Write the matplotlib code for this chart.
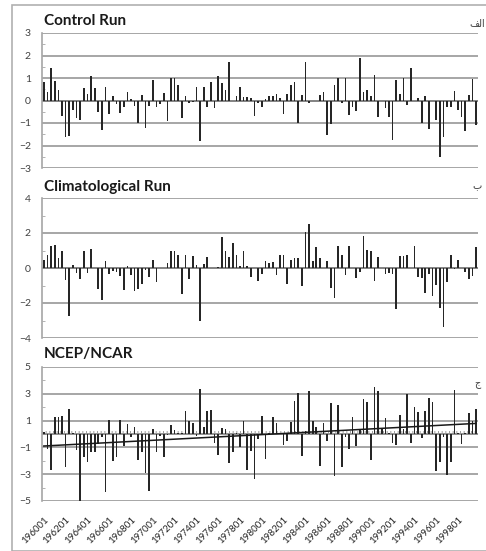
import numpy as np
import matplotlib.pyplot as plt
from matplotlib.patches import Rectangle
from matplotlib.ticker import MultipleLocator

plt.rcParams["font.family"] = ["Lato", "DejaVu Sans"]

# three values per year, 1960-1999
periods = [f"{y}0{m}" for y in range(1960, 2000) for m in (1, 2, 3)]
tick_labels = [f"{y}01" for y in range(1960, 2000, 2)]

control = [
    0.84, 0.36, 1.44, 0.87, 0.47, -0.68, -1.6, -1.57, -0.41, -0.79,
    -0.86, 0.55, 0.3, 1.07, 0.56, -0.52, -1.3, 0.59, -0.59, 0.22,
    -0.16, -0.56, -0.3, 0.36, 0.05, -0.24, -1.0, 0.25, -1.23, -0.24,
    0.92, -0.3, -0.16, 0.33, -0.92, 1.02, 1.02, 0.7, -0.79, 0.18,
    -0.12, -0.07, 0.59, -1.82, 0.59, -0.27, 0.84, -0.34, 1.1, 0.8,
    0.47, 1.73, 0.0, 0.18, 0.59, 0.15, 0.15, 0.1, -0.71, -0.12,
    -0.3, 0.07, 0.18, 0.22, 0.28, 0.1, -0.59, 0.3, 0.7, 0.81,
    -0.98, 0.25, 1.7, -0.09, 0.0, 0.0, 0.25, 0.4, -1.53, -1.04,
    0.67, 0.99, -0.09, 0.99, -0.64, -0.27, -0.46, 1.88, 0.36, 0.47,
    0.18, 1.14, -0.74, 0.0, -0.34, -0.74, -1.75, 0.89, 0.28, 0.99,
    -0.19, 1.44, -0.04, 0.13, -1.0, 0.18, -1.26, 0.0, -0.86, -2.52,
    -1.63, -0.27, -0.31, 0.43, -0.44, -0.74, -1.35, 0.25, 0.95, -1.08,
]

climatological = [
    0.48, 0.72, 1.24, 1.3, 0.57, 0.95, -0.7, -2.72, 0.19, -0.29,
    -0.63, 0.95, -0.29, 1.09, 0.0, -1.2, -1.85, 0.38, -0.32, -0.19,
    -0.25, -0.48, -1.24, 0.1, -0.38, -1.33, -1.18, -0.9, -0.1, -0.51,
    0.48, -0.82, 0.0, 0.0, 0.29, 0.95, 1.0, 0.72, -1.47, 0.76,
    -0.63, 0.67, 0.19, -3.0, 0.23, 0.61, 0.0, 0.0, 0.06, 1.8,
    0.99, 0.61, 1.43, 0.76, 0.13, 1.0, 0.13, -0.51, 0.0, -0.76,
    -0.32, 0.38, 0.29, 0.32, -0.38, 0.76, 0.76, -0.9, 0.48, 0.57,
    0.57, -1.05, 2.04, 2.5, 0.38, 1.18, 0.57, 0.0, 0.42, -1.14,
    -1.71, 1.28, 0.76, -0.38, 1.28, 0.0, -0.57, -0.25, 1.81, 1.05,
    0.99, -0.76, 0.61, 0.0, -0.32, -0.29, -0.32, -2.34, 0.7, 0.7,
    0.76, 0.0, 1.28, -0.51, -0.57, -1.43, -0.34, -1.62, -0.95, -2.28,
    -3.39, -0.82, 0.76, -0.06, 0.48, 0.0, -0.25, -0.63, -0.44, 1.2,
]

ncep = [
    0.15, -1.1, -2.7, 1.24, 1.24, 1.37, -2.43, 1.86, 0.1, -1.2,
    -5.0, -1.74, -2.1, -1.37, -1.37, -0.75, -0.25, -4.35, 1.04, -1.99,
    -1.69, 1.04, -0.87, 0.75, -0.25, 0.55, -1.94, -1.32, -2.93, -4.22,
    0.37, -1.37, -0.12, -1.69, -0.05, 0.7, 0.32, 0.05, 0.1, 1.69,
    1.0, 0.8, -0.12, 3.35, 0.55, 1.69, 1.79, -0.7, -1.57, 0.45,
    0.37, -2.19, -1.37, 0.1, -1.0, 1.0, -2.68, -1.3, -3.35, -0.37,
    1.37, -1.86, 0.1, 1.24, 0.8, 0.1, -0.8, -0.5, 0.87, 2.43,
    3.06, -1.61, 0.25, 3.23, 0.94, 0.55, -2.36, 0.8, -0.55, 2.29,
    -3.1, 2.19, -2.43, -0.25, -1.12, 1.24, -0.87, 0.37, 2.6, 2.36,
    -1.94, 3.53, 3.23, 0.37, 1.19, 0.1, -0.7, -0.8, 1.44, 0.37,
    2.98, -0.7, 1.99, 1.61, -0.3, 1.74, 2.68, 2.36, -2.73, -2.11,
    -0.2, -3.03, -2.11, 3.28, 0.1, -0.75, 0.1, 1.54, 1.0, 1.86,
]

W, H = 486, 551
fig = plt.figure(figsize=(W / 100, H / 100), dpi=100)
fig.patches.append(Rectangle((12 / W, 0), 1, 1 - 5 / H, transform=fig.transFigure,
                             fill=False, edgecolor="#b0b0b0", lw=1.2))

x = np.arange(len(periods))
grid_c = "#a6a6a6"


def panel(top_px, bot_px, values, ylim, major, minor, title, title_y, letter, letter_y):
    ax = fig.add_axes([42 / W, 1 - bot_px / H, 436 / W, (bot_px - top_px) / H])
    ax.bar(x, values, width=0.45, color="#262626", zorder=3)
    ax.set_xlim(-0.5, len(periods) - 0.5)
    ax.set_ylim(*ylim)
    ax.yaxis.set_major_locator(MultipleLocator(major))
    ax.yaxis.set_minor_locator(MultipleLocator(minor))
    ax.grid(axis="y", which="major", color=grid_c, lw=1.4, zorder=0)
    ax.axhline(0, color="#7f7f7f", lw=1.2, zorder=2)
    for s in ("top", "right", "bottom"):
        ax.spines[s].set_visible(False)
    ax.spines["left"].set_color(grid_c)
    ax.spines["left"].set_linewidth(1.2)
    ax.tick_params(axis="y", which="major", length=0, labelsize=7.5, colors="#404040", pad=8)
    ax.tick_params(axis="y", which="minor", direction="in", length=2.5, color=grid_c)
    ax.tick_params(axis="x", length=0)
    ax.set_xticks([])
    fig.text(44 / W, 1 - title_y / H, title, fontsize=11, fontweight="bold",
             color="#1a1a1a", va="center", ha="left")
    fig.text(477 / W, 1 - letter_y / H, letter, fontsize=7, color="#404040",
             va="center", ha="center", family=["DejaVu Sans"])
    return ax


panel(33, 168, control, (-3, 3), 1, 0.5, "Control Run", 21, "\ufed2\ufedf\ufe8d", 24)
panel(198, 338, climatological, (-4, 4), 2, 1, "Climatological Run", 187, "\u0628", 186)
ax3 = panel(367, 501, ncep, (-5, 5), 2, 1, "NCEP/NCAR", 354, "\u062c", 384)
ax3.set_yticks([-5, -3, -1, 1, 3, 5])

# dotted reference line and linear trend
ax3.axhline(0.12, color="#8c8c8c", lw=1.2, ls=(0, (0.6, 1.6)), zorder=2)
coef = np.polyfit(x, ncep, 1)
ax3.plot(x, np.polyval(coef, x), color="#1a1a1a", lw=1.1, zorder=4)

ax3.set_xticks(x[::6])
ax3.set_xticklabels(tick_labels, rotation=45, ha="right", rotation_mode="anchor",
                    fontsize=7, color="#262626")
ax3.tick_params(axis="x", pad=10)

fig.savefig("out.png", dpi=100)
